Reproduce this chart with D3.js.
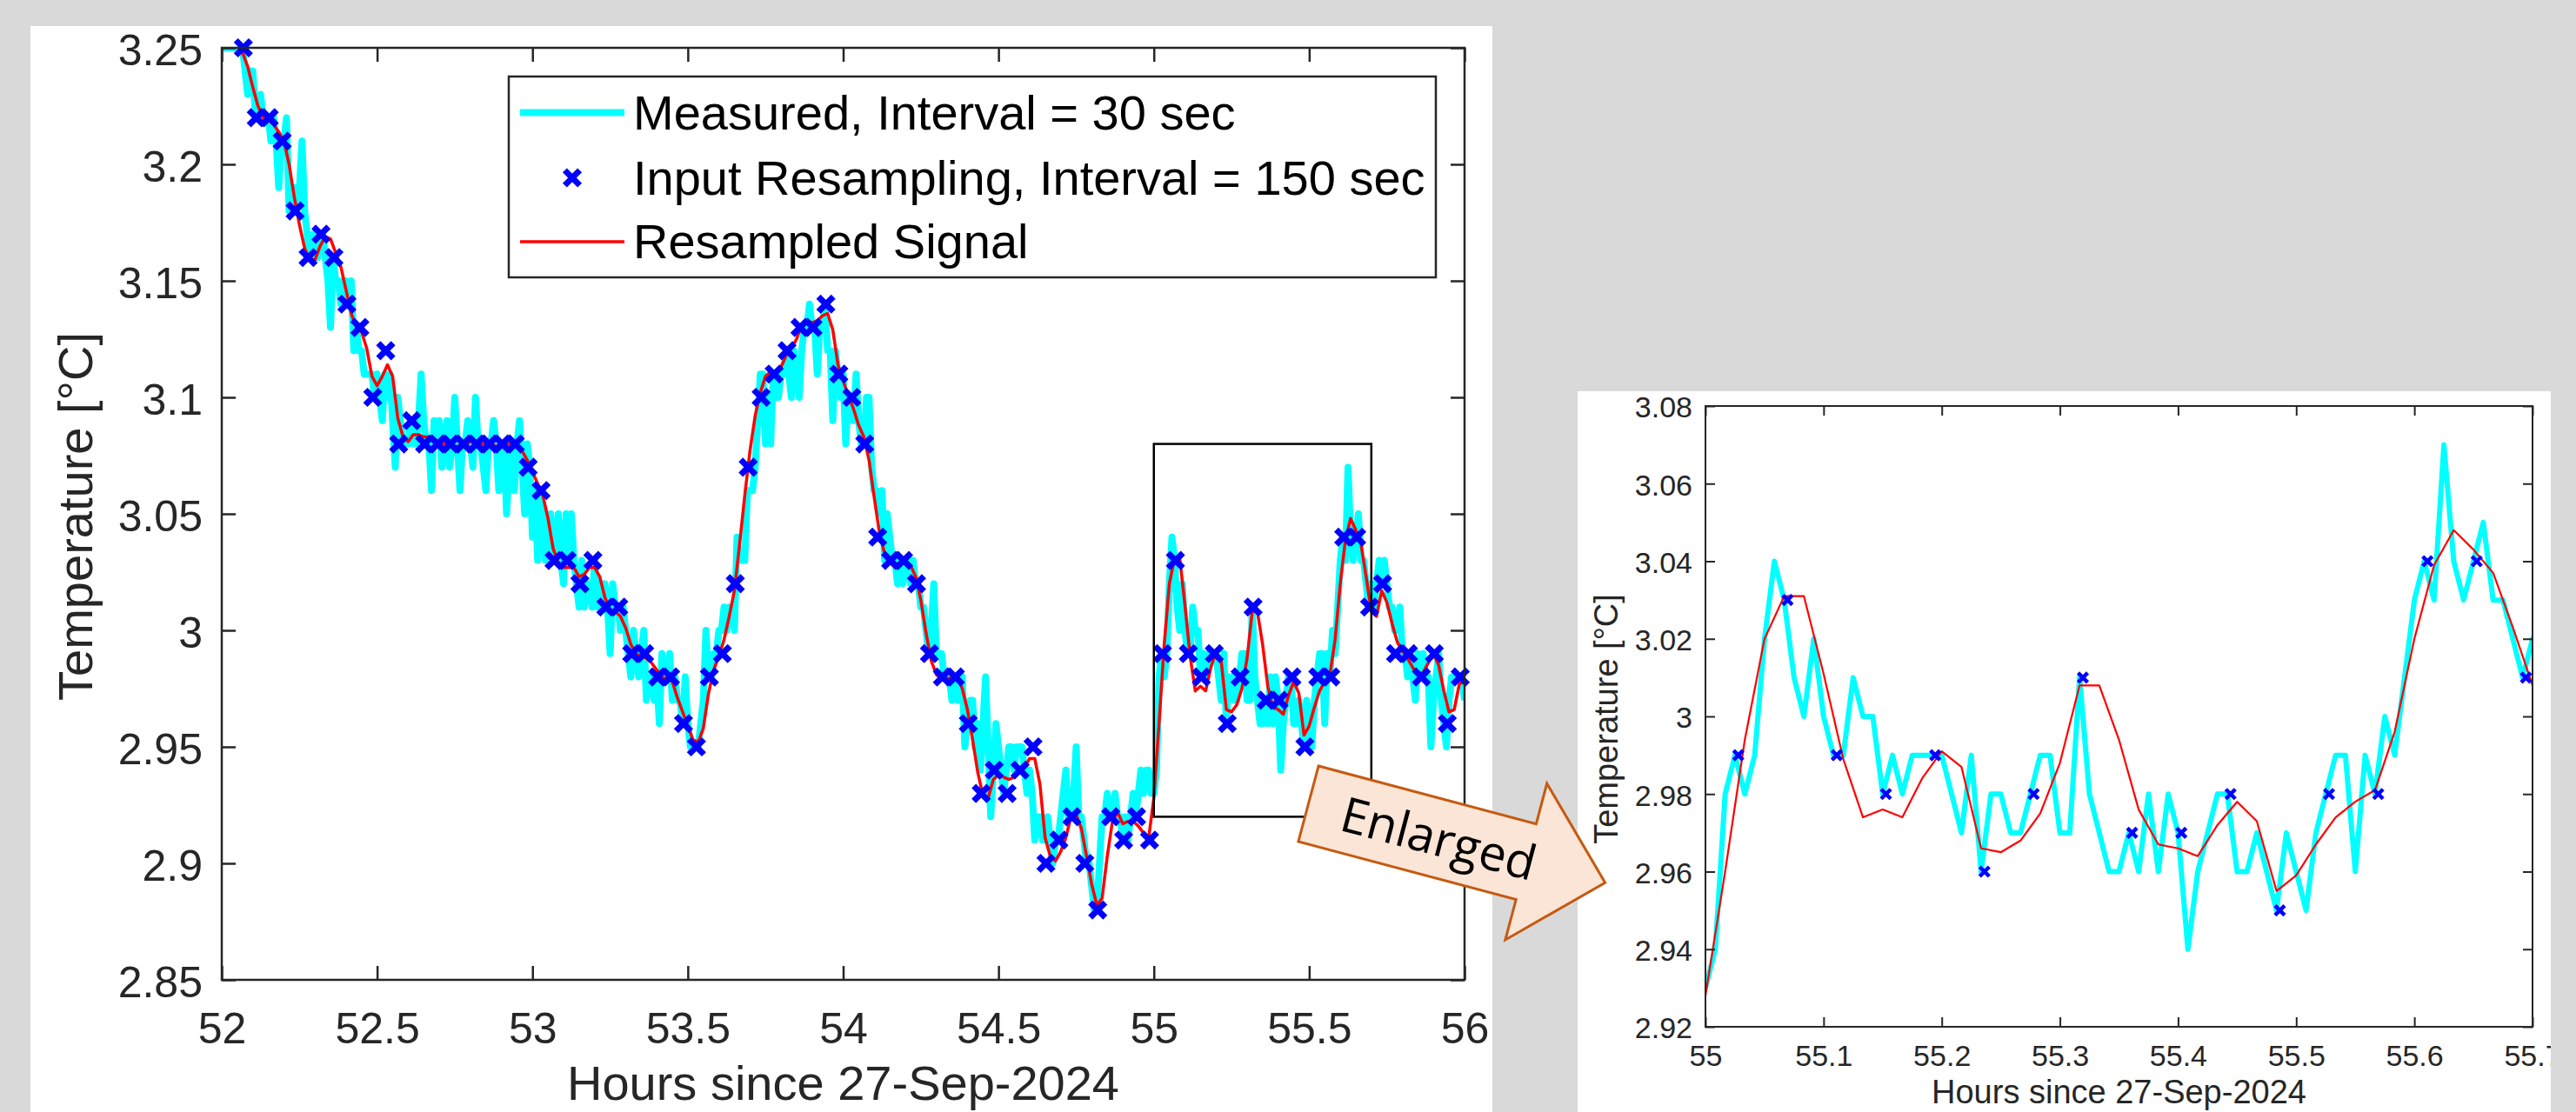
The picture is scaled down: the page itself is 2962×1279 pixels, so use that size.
<!DOCTYPE html>
<html>
<head>
<meta charset="utf-8">
<script src="https://cdn.jsdelivr.net/npm/d3@7"></script>
<style>
  html, body { margin: 0; padding: 0; background: #d9d9d9; }
  svg { display: block; }
</style>
</head>
<body>
<script>
// ---------------- data ----------------
// measured temperature, one value every 30 sec, hour by hour
const measuredStart = 52;
const measuredStep = 30 / 3600;
const measured52 = [
  3.25,3.25,3.25,3.25,3.25,3.25,3.25,3.25,3.25,3.24, 3.23,3.24,3.24,3.22,3.22,3.23,3.22,3.22,3.22,3.21,
  3.22,3.21,3.19,3.21,3.21,3.22,3.18,3.19,3.19,3.18, 3.19,3.21,3.18,3.17,3.16,3.17,3.16,3.16,3.17,3.17,
  3.16,3.15,3.13,3.16,3.15,3.15,3.14,3.15,3.15,3.14, 3.15,3.12,3.13,3.12,3.12,3.11,3.11,3.11,3.11,3.10,
  3.11,3.10,3.09,3.11,3.10,3.11,3.09,3.07,3.10,3.09, 3.08,3.08,3.08,3.09,3.08,3.08,3.09,3.11,3.09,3.08,
  3.08,3.06,3.09,3.08,3.09,3.07,3.08,3.09,3.07,3.08, 3.10,3.08,3.06,3.08,3.08,3.09,3.08,3.07,3.10,3.08,
  3.08,3.07,3.06,3.08,3.08,3.09,3.08,3.06,3.08,3.08, 3.05,3.07,3.08,3.06,3.08,3.09,3.07,3.05,3.08,3.07
];
const measured53 = [
  3.04,3.06,3.03,3.06,3.05,3.03,3.04,3.05,3.03,3.04, 3.05,3.03,3.02,3.05,3.03,3.05,3.03,3.02,3.01,3.03,
  3.01,3.02,3.02,3.01,3.03,3.01,3.01,3.02,3.02,3.01, 2.99,3.02,3.01,3.01,3.00,3.01,3.00,2.99,2.98,3.00,
  2.99,2.98,2.99,3.00,2.97,2.98,2.98,2.97,2.98,2.96, 2.99,2.98,2.98,2.99,2.97,2.98,2.97,2.97,2.96,2.98,
  2.96,2.95,2.95,2.95,2.95,2.96,2.97,3.00,2.98,2.98, 2.99,2.99,3.00,3.00,3.01,3.00,3.01,3.01,3.00,3.04,
  3.03,3.03,3.03,3.06,3.06,3.06,3.07,3.09,3.11,3.11, 3.08,3.10,3.08,3.11,3.10,3.10,3.11,3.11,3.12,3.11,
  3.10,3.12,3.11,3.10,3.12,3.13,3.13,3.14,3.13,3.13, 3.11,3.13,3.13,3.14,3.12,3.12,3.09,3.12,3.11,3.10
];
const measured54 = [
  3.11,3.08,3.10,3.10,3.09,3.11,3.09,3.08,3.08,3.10, 3.10,3.07,3.06,3.06,3.05,3.06,3.03,3.05,3.04,3.03,
  3.03,3.02,3.03,3.02,3.03,3.03,3.02,3.03,3.02,3.02, 3.01,3.01,3.00,2.99,3.00,3.02,2.99,2.99,2.99,2.98,
  2.98,2.98,2.97,2.98,2.97,2.97,2.98,2.95,2.96,2.97, 2.97,2.95,2.96,2.94,2.96,2.98,2.95,2.92,2.94,2.96,
  2.95,2.94,2.93,2.94,2.95,2.95,2.94,2.95,2.95,2.95, 2.94,2.93,2.94,2.93,2.91,2.92,2.92,2.91,2.91,2.92,
  2.91,2.90,2.91,2.91,2.92,2.93,2.94,2.92,2.92,2.93, 2.95,2.92,2.92,2.91,2.90,2.90,2.89,2.88,2.88,2.90,
  2.92,2.92,2.93,2.92,2.92,2.93,2.92,2.92,2.91,2.92, 2.91,2.92,2.93,2.92,2.93,2.94,2.93,2.94,2.94,2.93
];
const measured55 = [
  2.93,2.94,2.98,2.99,2.98,2.99,3.02,3.04,3.03,3.01, 3.00,3.02,3.00,2.99,2.99,3.01,3.00,3.00,2.98,2.99,
  2.98,2.99,2.99,2.99,2.99,2.98,2.97,2.99,2.96,2.98, 2.98,2.97,2.97,2.98,2.99,2.99,2.97,2.97,3.01,2.98,
  2.97,2.96,2.96,2.97,2.96,2.98,2.96,2.98,2.97,2.94, 2.96,2.97,2.98,2.98,2.96,2.96,2.97,2.96,2.95,2.97,
  2.96,2.95,2.97,2.98,2.99,2.99,2.96,2.99,2.98,3.00, 2.99,3.01,3.03,3.04,3.03,3.07,3.04,3.03,3.04,3.05,
  3.03,3.03,3.02,3.01,3.02,3.01,3.02,3.03,3.02,3.03, 3.02,3.01,3.01,3.00,3.00,3.01,2.99,2.99,2.98,2.99,
  2.98,2.97,2.99,2.98,2.99,2.98,2.98,2.95,2.97,2.98, 2.99,2.97,2.96,2.95,2.97,2.98,2.98,2.98,2.98,2.98,
  2.97
];

// input resampling points, every 150 sec
const inputStart = 52 + 250 / 3600;
const inputStep = 150 / 3600;
const inputSamples = [
  3.25,3.22,3.22,3.21,3.18,3.16,3.17,3.16,3.14,3.13, 3.10,3.12,3.08,3.09,3.08,3.08,3.08,3.08,3.08,3.08,
  3.08,3.08,3.07,3.06,3.03,3.03,3.02,3.03,3.01,3.01, 2.99,2.99,2.98,2.98,2.96,2.95,2.98,2.99,3.02,3.07,
  3.10,3.11,3.12,3.13,3.13,3.14,3.11,3.10,3.08,3.04, 3.03,3.03,3.02,2.99,2.98,2.98,2.96,2.93,2.94,2.93,
  2.94,2.95,2.90,2.91,2.92,2.90,2.88,2.92,2.91,2.92, 2.91,2.99,3.03,2.99,2.98,2.99,2.96,2.98,3.01,2.97,
  2.97,2.98,2.95,2.98,2.98,3.04,3.04,3.01,3.02,2.99, 2.99,2.98,2.99,2.96,2.98
];

// resampled signal, every 60 sec
const resampledStart = 52 + 240 / 3600;
const resampledStep = 60 / 3600;
const resampled = [
  3.248,3.242,3.233,3.225,3.220,3.219,3.217,3.214,3.210,3.200,
  3.186,3.174,3.164,3.159,3.159,3.165,3.169,3.168,3.162,3.156,
  3.146,3.136,3.130,3.128,3.121,3.109,3.105,3.109,3.114,3.109,
  3.091,3.083,3.081,3.084,3.084,3.083,3.083,3.082,3.081,3.080,
  3.079,3.079,3.079,3.079,3.081,3.081,3.080,3.080,3.080,3.079,
  3.080,3.080,3.080,3.080,3.077,3.073,3.068,3.063,3.058,3.048,
  3.035,3.029,3.027,3.027,3.027,3.023,3.024,3.027,3.027,3.023,
  3.014,3.009,3.008,3.006,3.001,2.994,2.990,2.989,2.988,2.986,
  2.983,2.980,2.979,2.978,2.971,2.965,2.959,2.953,2.952,2.958,
  2.973,2.983,2.989,2.996,3.006,3.017,3.037,3.058,3.077,3.092,
  3.102,3.109,3.111,3.111,3.113,3.118,3.121,3.125,3.131,3.133,
  3.132,3.133,3.135,3.136,3.129,3.114,3.107,3.101,3.095,3.088,
  3.083,3.073,3.057,3.042,3.033,3.029,3.027,3.029,3.030,3.028,
  3.023,3.013,2.999,2.987,2.981,2.979,2.979,2.980,2.980,2.975,
  2.966,2.953,2.939,2.929,2.928,2.936,2.938,2.937,2.936,2.937,
  2.939,2.941,2.945,2.945,2.934,2.911,2.903,2.901,2.905,2.911,
  2.920,2.921,2.915,2.903,2.891,2.882,2.885,2.903,2.918,2.922,
  2.917,2.918,2.918,2.916,2.913,2.911,2.928,2.960,2.994,3.020,
  3.031,3.031,3.011,2.989,2.974,2.976,2.974,2.984,2.991,2.987,
  2.966,2.965,2.968,2.975,2.988,3.008,3.008,2.994,2.976,2.967,
  2.966,2.964,2.972,2.978,2.973,2.955,2.959,2.967,2.974,2.978,
  2.981,2.996,3.020,3.039,3.048,3.043,3.037,3.023,3.008,3.006,
  3.017,3.012,3.003,2.995,2.991,2.988,2.984,2.981,2.982,2.986,
  2.990,2.985,2.974,2.965,2.966,2.977,2.978
];

const mainXTicks = [52, 52.5, 53, 53.5, 54, 54.5, 55, 55.5, 56];
const mainYTicks = [2.85, 2.9, 2.95, 3, 3.05, 3.1, 3.15, 3.2, 3.25];
const insetXTicks = [55, 55.1, 55.2, 55.3, 55.4, 55.5, 55.6, 55.7];
const insetYTicks = [2.92, 2.94, 2.96, 2.98, 3, 3.02, 3.04, 3.06, 3.08];
const mainXDomain = [52, 56], mainYDomain = [2.85, 3.25];
const zoomXDomain = [55, 55.7], zoomYDomain = [2.92, 3.08];
const legendLabels = ["Measured, Interval = 30 sec", "Input Resampling, Interval = 150 sec", "Resampled Signal"];
const xTitle = "Hours since 27-Sep-2024";
const yTitle = "Temperature [\u00B0C]";
const calloutText = "Enlarged";

// ---------------- setup ----------------
const CYAN = "#00ffff", BLUE = "#0000ff", RED = "#ff0000", AX = "#262626";
const FONT = "'Liberation Sans', Arial, Helvetica, sans-serif";

const measured = [].concat(measured52, measured53, measured54, measured55)
  .map((v, i) => ({ t: measuredStart + i * measuredStep, v }));
const samples = inputSamples.map((v, i) => ({ t: inputStart + i * inputStep, v }));
const smooth = resampled.map((v, i) => ({ t: resampledStart + i * resampledStep, v }));

const svg = d3.select("body").append("svg")
  .attr("width", 2962).attr("height", 1279);

svg.append("rect").attr("width", 2962).attr("height", 1279).attr("fill", "#d9d9d9");

function cross(a) {
  return `M${-a},${-a}L${a},${a}M${-a},${a}L${a},${-a}`;
}

function drawChart(g, c) {
  const x = d3.scaleLinear().domain(c.xDomain).range([c.left, c.right]);
  const y = d3.scaleLinear().domain(c.yDomain).range([c.bottom, c.top]);

  g.append("clipPath").attr("id", c.id).append("rect")
    .attr("x", c.left).attr("y", c.top)
    .attr("width", c.right - c.left).attr("height", c.bottom - c.top);

  const line = d3.line().x(d => x(d.t)).y(d => y(d.v));
  const plot = g.append("g").attr("clip-path", `url(#${c.id})`);

  plot.append("path").datum(measured)
    .attr("d", line).attr("fill", "none")
    .attr("stroke", CYAN).attr("stroke-width", c.cyanW)
    .attr("stroke-linejoin", "round");

  g.append("g").selectAll("path")
    .data(samples.filter(d => d.t >= c.xDomain[0] && d.t <= c.xDomain[1]))
    .join("path")
    .attr("transform", d => `translate(${x(d.t)},${y(d.v)})`)
    .attr("d", cross(c.markR)).attr("fill", "none")
    .attr("stroke", BLUE).attr("stroke-width", c.markW);

  plot.append("path").datum(smooth)
    .attr("d", line).attr("fill", "none")
    .attr("stroke", RED).attr("stroke-width", c.redW)
    .attr("stroke-linejoin", "round");

  // axes, ticks pointing inward on all four sides
  const fmt = d => String(+d.toFixed(2));
  const style = sel => {
    sel.attr("font-size", null).attr("font-family", null);
    sel.select(".domain").remove();
    sel.selectAll(".tick line").attr("stroke", AX).attr("stroke-width", c.axW);
    sel.selectAll(".tick text").attr("fill", AX)
      .style("font-family", FONT).style("font-size", c.tickFont + "px");
  };
  g.append("g").attr("transform", `translate(0,${c.bottom})`)
    .call(d3.axisBottom(x).tickValues(c.xTicks).tickFormat(fmt)
      .tickSizeInner(-c.tick).tickSizeOuter(0).tickPadding(c.xPad))
    .call(style);
  g.append("g").attr("transform", `translate(0,${c.top})`)
    .call(d3.axisTop(x).tickValues(c.xTicks).tickFormat("")
      .tickSizeInner(-c.tick).tickSizeOuter(0))
    .call(style);
  g.append("g").attr("transform", `translate(${c.left},0)`)
    .call(d3.axisLeft(y).tickValues(c.yTicks).tickFormat(fmt)
      .tickSizeInner(-c.tick).tickSizeOuter(0).tickPadding(c.yPad))
    .call(style)
    .selectAll(".tick text").attr("dy", "0.38em");
  g.append("g").attr("transform", `translate(${c.right},0)`)
    .call(d3.axisRight(y).tickValues(c.yTicks).tickFormat("")
      .tickSizeInner(-c.tick).tickSizeOuter(0))
    .call(style);

  g.append("rect")
    .attr("x", c.left).attr("y", c.top)
    .attr("width", c.right - c.left).attr("height", c.bottom - c.top)
    .attr("fill", "none").attr("stroke", AX).attr("stroke-width", c.axW);

  g.append("text")
    .attr("x", (c.left + c.right) / 2).attr("y", c.xTitleY)
    .attr("text-anchor", "middle").attr("fill", AX)
    .style("font-family", FONT).style("font-size", c.titleFont + "px")
    .text(xTitle);
  g.append("text")
    .attr("transform", `translate(${c.yTitleX},${(c.top + c.bottom) / 2 + 3}) rotate(-90)`)
    .attr("text-anchor", "middle").attr("fill", AX)
    .style("font-family", FONT).style("font-size", c.titleFont + "px")
    .text(yTitle);

  return { x, y };
}

// ---------------- main chart ----------------
svg.append("rect").attr("x", 35).attr("y", 30).attr("width", 1681).attr("height", 1260).attr("fill", "#fff");

const mainG = svg.append("g");
const mainScales = drawChart(mainG, {
  id: "clip-main",
  xDomain: mainXDomain, yDomain: mainYDomain,
  left: 255, right: 1684, top: 55, bottom: 1127,
  xTicks: mainXTicks, yTicks: mainYTicks,
  cyanW: 8, redW: 3.5, markR: 8.6, markW: 7,
  axW: 2.5, tick: 16, tickFont: 50, xPad: 37, yPad: 22,
  titleFont: 56, xTitleY: 1265, yTitleX: 106
});

// legend
const leg = mainG.append("g");
leg.append("rect").attr("x", 585).attr("y", 88).attr("width", 1066).attr("height", 231)
  .attr("fill", "#fff").attr("stroke", AX).attr("stroke-width", 2.5);
const rowY = [129.5, 204.5, 278];
leg.append("line").attr("x1", 598).attr("x2", 718).attr("y1", rowY[0]).attr("y2", rowY[0])
  .attr("stroke", CYAN).attr("stroke-width", 8);
leg.append("path").attr("transform", `translate(658,${rowY[1]})`).attr("d", cross(8.6))
  .attr("stroke", BLUE).attr("stroke-width", 7).attr("fill", "none");
leg.append("line").attr("x1", 598).attr("x2", 718).attr("y1", rowY[2]).attr("y2", rowY[2])
  .attr("stroke", RED).attr("stroke-width", 3.5);
leg.selectAll("text.lab").data(legendLabels).join("text").attr("class", "lab")
  .attr("x", 728).attr("y", (d, i) => rowY[i] + 19)
  .attr("fill", "#000").style("font-family", FONT).style("font-size", "56px")
  .text(d => d);

// window that is enlarged
const mx = mainScales.x, my = mainScales.y;
mainG.append("rect")
  .attr("x", mx(zoomXDomain[0])).attr("y", my(zoomYDomain[1]))
  .attr("width", mx(zoomXDomain[1]) - mx(zoomXDomain[0]))
  .attr("height", my(zoomYDomain[0]) - my(zoomYDomain[1]))
  .attr("fill", "none").attr("stroke", "#000").attr("stroke-width", 2.5);

// ---------------- inset chart ----------------
svg.append("clipPath").attr("id", "clip-panel").append("rect")
  .attr("x", 1814).attr("y", 450).attr("width", 1119).attr("height", 840);
const insetG = svg.append("g").attr("clip-path", "url(#clip-panel)");
insetG.append("rect").attr("x", 1814).attr("y", 450).attr("width", 1119).attr("height", 840).attr("fill", "#fff");
drawChart(insetG, {
  id: "clip-inset",
  xDomain: zoomXDomain, yDomain: zoomYDomain,
  left: 1961, right: 2912, top: 467, bottom: 1181,
  xTicks: insetXTicks, yTicks: insetYTicks,
  cyanW: 6, redW: 2.2, markR: 5.5, markW: 4.5,
  axW: 2, tick: 11, tickFont: 34, xPad: 21, yPad: 15,
  titleFont: 38, xTitleY: 1269, yTitleX: 1860
});

// ---------------- callout arrow ----------------
const arrow = svg.append("g").attr("transform", "translate(1504.5,924.5) rotate(14.9)");
const arrowPts = [[0, -45], [259, -45], [259, -93], [353, 0], [259, 93], [259, 45], [0, 45]];
arrow.append("polygon")
  .attr("points", arrowPts.map(p => p.join(",")).join(" "))
  .attr("fill", "#fbe5d6").attr("stroke", "#c55a11").attr("stroke-width", 3)
  .attr("stroke-linejoin", "miter");
arrow.append("text")
  .attr("x", 155).attr("y", 20).attr("text-anchor", "middle")
  .attr("fill", "#000").style("font-family", "'Open Sans', 'Noto Sans', sans-serif")
  .style("font-size", "56px")
  .text(calloutText);
</script>
</body>
</html>
